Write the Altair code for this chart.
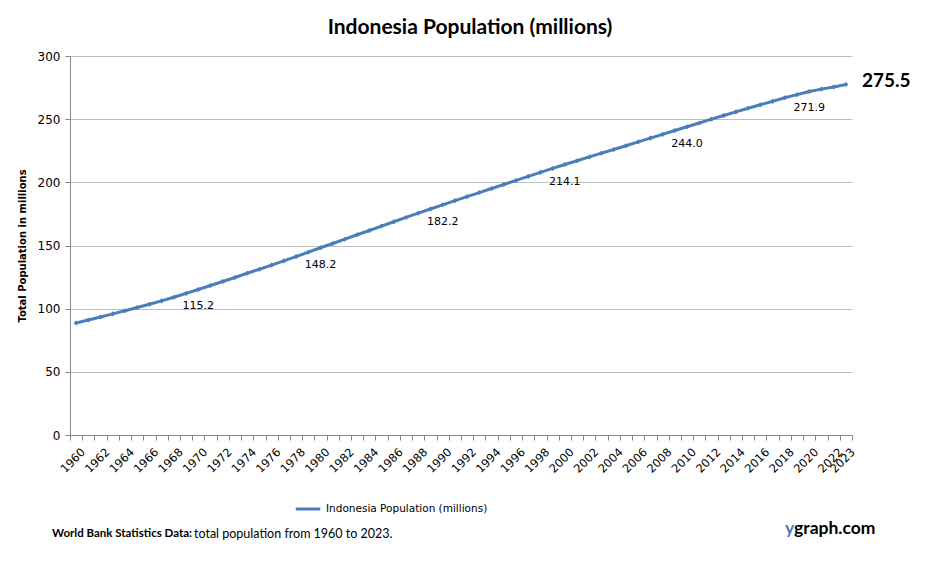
import altair as alt
import pandas as pd

years = list(range(1960, 2024))
population = [
    88.7, 91.0, 93.4, 95.9, 98.4, 100.9, 103.5, 106.2, 109.0, 112.1,
    115.2, 118.3, 121.5, 124.7, 128.0, 131.2, 134.5, 137.8, 141.2, 144.7,
    148.2, 151.6, 155.0, 158.5, 161.9, 165.4, 168.8, 172.2, 175.6, 178.9,
    182.2, 185.5, 188.7, 191.9, 195.1, 198.3, 201.5, 204.7, 207.9, 211.0,
    214.1, 217.1, 220.1, 223.1, 226.0, 229.0, 232.0, 235.0, 238.0, 241.0,
    244.0, 247.0, 250.0, 252.9, 255.8, 258.6, 261.4, 264.1, 266.9, 269.4,
    271.9, 273.8, 275.5, 277.5,
]
label_years = [1970, 1980, 1990, 2000, 2010, 2020]
latest_label = "275.5"
series_name = "Indonesia Population (millions)"

df = pd.DataFrame({"year": years, "pop": population, "series": series_name})
df["lbl"] = df["pop"].map(lambda v: f"{v:.1f}")
lab_df = df[df["year"].isin(label_years)]
last_df = df[df["year"] == years[-1]].copy()
last_df["lbl"] = latest_label

W, H = 782, 379
LINE = "#4A7EBB"
AX = "#868686"

x_enc = alt.X(
    "year:O",
    scale=alt.Scale(type="band", paddingInner=0, paddingOuter=0),
    axis=alt.Axis(
        title=None, labelAngle=-45, labelAlign="right", labelBaseline="top",
        labelExpr="(datum.value % 2 == 0 || datum.value == 2023) ? datum.value : ''",
        labelOverlap=False, tickBand="extent", tickSize=5, tickColor=AX,
        domainColor=AX, labelFont="DejaVu Sans", labelFontSize=11.5,
        labelColor="#000000", labelPadding=6, labelOffset=3, grid=False,
    ),
)
y_enc = alt.Y(
    "pop:Q",
    scale=alt.Scale(domain=[0, 300], nice=False),
    axis=alt.Axis(
        title="Total Population  in millions", values=[0, 50, 100, 150, 200, 250, 300],
        titleFont="DejaVu Sans", titleFontSize=10, titleFontWeight="bold",
        titleColor="#000000", titlePadding=10,
        labelFont="DejaVu Sans", labelFontSize=12, labelColor="#000000",
        labelPadding=5, tickSize=5, tickColor=AX, domainColor=AX,
        gridColor="#BFBFBF", grid=True,
    ),
)

line = alt.Chart(df).mark_line(
    strokeWidth=3,
    point=alt.OverlayMarkDef(shape="diamond", size=26, filled=True),
).encode(
    x=x_enc, y=y_enc,
    color=alt.Color(
        "series:N", scale=alt.Scale(range=[LINE]),
        legend=alt.Legend(
            title=None, orient="none", legendX=224, legendY=439,
            symbolType="stroke", symbolStrokeWidth=3, symbolSize=600,
            labelFont="DejaVu Sans", labelFontSize=10.5, labelColor="#000000",
            labelOffset=4, labelLimit=0,
        ),
    ),
)

labels = alt.Chart(lab_df).mark_text(
    dy=17, font="DejaVu Sans", fontSize=11, color="#000000"
).encode(x="year:O", y="pop:Q", text="lbl:N")

last = alt.Chart(last_df).mark_text(
    dx=16, dy=-3, align="left", font="Lato", fontSize=19, fontWeight="bold", color="#000000"
).encode(x="year:O", y="pop:Q", text="lbl:N")

def txt(s, x, y, size, weight="normal", color="#000000", align="left", font="Lato"):
    return alt.Chart(pd.DataFrame({"t": [s]})).mark_text(
        align=align, baseline="middle", fontSize=size, fontWeight=weight,
        color=color, font=font,
    ).encode(text="t:N", x=alt.value(x), y=alt.value(y))

title = txt("Indonesia Population (millions)", 400, -28, 21, "bold", align="center")
foot1 = txt("World Bank Statistics Data:", -18, 478, 11.5, "bold")
foot2 = txt("total population from 1960 to 2023.", 124, 478, 12.5)
brand1 = txt("y", 715, 473, 17.5, "bold", color=LINE)
brand2 = txt("graph.com", 724, 473, 17.5, "bold")

chart = alt.layer(line, labels, last, title, foot1, foot2, brand1, brand2).properties(
    width=W, height=H,
    autosize=alt.AutoSizeParams(type="none"),
    padding={"left": 62, "top": 48, "right": 81, "bottom": 110},
    background="white",
).configure_view(stroke=None)

chart.save("out.html", embed_options={"renderer": "svg", "actions": False})
